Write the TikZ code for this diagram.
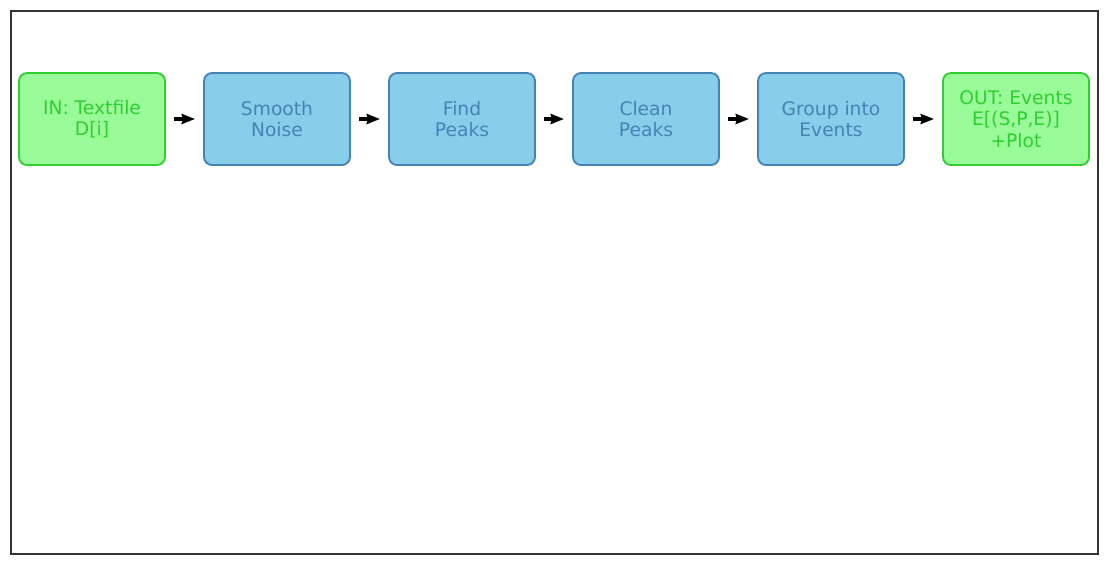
\documentclass[tikz,border=0pt]{standalone}
\usepackage{fontspec}
\setmainfont{DejaVu Sans}
\usetikzlibrary{arrows.meta}
\definecolor{ingreen}{RGB}{152,251,152}
\definecolor{ingreenline}{RGB}{50,205,50}
\definecolor{stepblue}{RGB}{135,206,235}
\definecolor{stepblueline}{RGB}{70,130,180}
\tikzset{
	box/.style={rounded corners=6pt, line width=1.4pt, minimum width=109.5pt,
		minimum height=69pt, align=center, font=\fontsize{14}{16}\selectfont},
	iobox/.style={box, draw=ingreenline, fill=ingreen, text=ingreenline},
	stepbox/.style={box, draw=stepblueline, fill=stepblue, text=stepblueline},
	flow/.style={line width=3pt, -{Stealth[length=10pt,width=7.5pt,inset=1pt]},
		shorten <=6pt, shorten >=6pt}
}
\begin{document}
\begin{tikzpicture}[x=0.75pt, y=-0.75pt]
	\useasboundingbox (0,0) rectangle (1108,565);
	% Rahmen
	\draw[line width=0.8pt, draw=black!80] (11,11) rectangle (1098,554);
	% Bausteine
	\node[iobox] (in) at (92, 119) {IN: Textfile\\D[i]};
	\node[stepbox] (smooth) at (277, 119) {Smooth\\Noise};
	\node[stepbox] (find) at (462, 119) {Find\\Peaks};
	\node[stepbox] (clean) at (646, 119) {Clean\\Peaks};
	\node[stepbox] (group) at (831, 119) {Group into\\Events};
	\node[iobox] (out) at (1016, 119) {OUT: Events\\E[(S,P,E)]\\+Plot};
	% Pfeile
	\foreach \a/\b in {in/smooth, smooth/find, find/clean, clean/group, group/out}
		\draw[flow] (\a) -- (\b);
\end{tikzpicture}
\end{document}
